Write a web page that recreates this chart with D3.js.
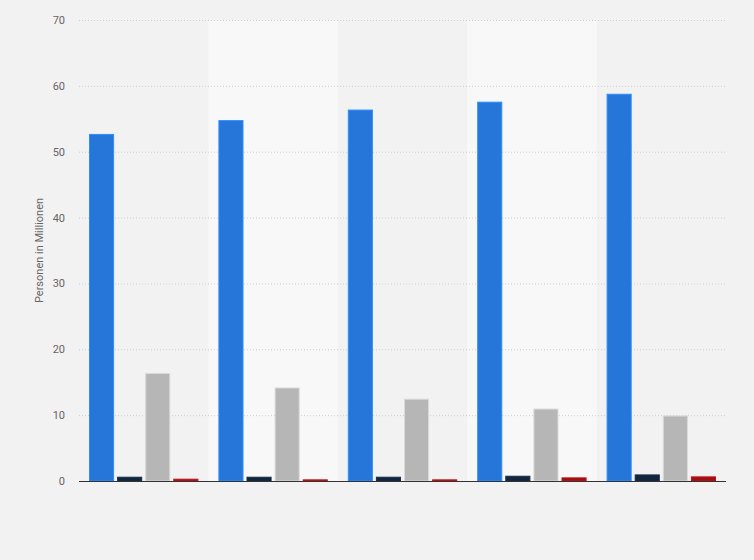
<!DOCTYPE html>
<html>
<head>
<meta charset="utf-8">
<script src="https://cdn.jsdelivr.net/npm/d3@7"></script>
<style>
  html, body { margin: 0; padding: 0; background: #f2f2f2; }
  svg { display: block; }
</style>
</head>
<body>
<svg id="chart" width="754" height="560"></svg>
<script>
const categories = ["G1", "G2", "G3", "G4", "G5"];
const seriesNames = ["S1", "S2", "S3", "S4"];
const seriesBlue = [52.7, 54.8, 56.4, 57.6, 58.8];
const seriesNavy = [0.65, 0.65, 0.65, 0.8, 1.0];
const seriesGrey = [16.4, 14.2, 12.5, 11.0, 9.95];
const seriesRed = [0.35, 0.25, 0.25, 0.55, 0.7];
const yTicks = [0, 10, 20, 30, 40, 50, 60, 70];
const yLabel = "Personen in Millionen";

const colors = ["#2676da", "#11263d", "#b6b6b6", "#a20e12"];
const seriesValues = [seriesBlue, seriesNavy, seriesGrey, seriesRed];

const svg = d3.select("#chart");
const m = { left: 79, right: 28, top: 20, bottom: 79 };
const W = 754, H = 560;
const x0 = m.left, x1 = W - m.right, yTop = m.top, yBot = H - m.bottom;

svg.append("rect").attr("width", W).attr("height", H).attr("fill", "#f2f2f2");

const x = d3.scaleBand().domain(categories).range([x0, x1]).paddingInner(0).paddingOuter(0);
const xs = d3.scaleBand().domain(seriesNames).range([10, x.bandwidth() - 10]).paddingInner(0.107).paddingOuter(0);
const y = d3.scaleLinear().domain([0, 70]).range([yBot, yTop]);

// alternating bands
svg.append("g").selectAll("rect")
  .data(categories.filter((c, i) => i % 2 === 1))
  .join("rect")
  .attr("x", d => x(d)).attr("y", yTop)
  .attr("width", x.bandwidth()).attr("height", yBot - yTop)
  .attr("fill", "#f8f8f8");

// grid
const grid = svg.append("g").attr("transform", `translate(${x0},0)`)
  .call(d3.axisLeft(y).tickValues(yTicks).tickSize(-(x1 - x0)).tickFormat(""));
grid.select(".domain").remove();
grid.selectAll(".tick line").attr("stroke", "#cfcfcf").attr("stroke-dasharray", "1,2")
  .filter(d => d === 0).remove();

// tick labels
const yAxis = svg.append("g").attr("transform", `translate(${x0 - 14},0)`)
  .call(d3.axisLeft(y).tickValues(yTicks).tickSize(0).tickPadding(0));
yAxis.select(".domain").remove();
yAxis.selectAll("text").attr("fill", "#666").attr("font-size", 11)
  .attr("font-family", "Roboto, Arial, sans-serif");

// y label
svg.append("text")
  .attr("transform", `translate(43,${(yTop + yBot) / 2}) rotate(-90)`)
  .attr("text-anchor", "middle")
  .attr("font-size", 11).attr("fill", "#666")
  .attr("font-family", "Roboto, Arial, sans-serif")
  .text(yLabel);

// bars
const data = [];
categories.forEach((c, i) => {
  seriesNames.forEach((s, j) => data.push({ c, s, v: seriesValues[j][i], color: colors[j] }));
});
svg.append("g").selectAll("rect")
  .data(data)
  .join("rect")
  .attr("x", d => x(d.c) + xs(d.s) + 0.5)
  .attr("y", d => y(d.v) + 0.5)
  .attr("width", xs.bandwidth() - 1)
  .attr("height", d => Math.max(0, y(0) - y(d.v) - 0.5))
  .attr("fill", d => d.color)
  .attr("stroke", d => d3.color(d.color).brighter(0.5))
  .attr("stroke-width", 1);

// baseline
svg.append("line")
  .attr("x1", x0).attr("x2", x1)
  .attr("y1", y(0) + 0.5).attr("y2", y(0) + 0.5)
  .attr("stroke", "#333").attr("stroke-width", 1);
</script>
</body>
</html>
